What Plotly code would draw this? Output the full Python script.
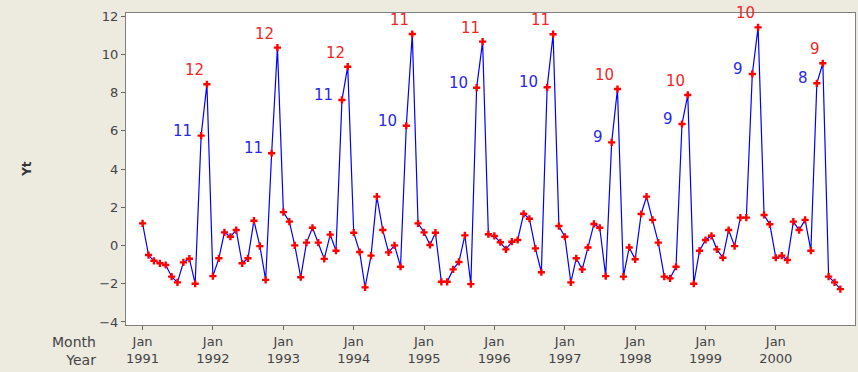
import pandas as pd
import plotly.graph_objects as go

# Monthly series Yt, Jan 1991 - Dec 2000
months = pd.date_range("1991-01-01", periods=120, freq="MS")
yt = [
    # 1991
    1.16, -0.50, -0.80, -0.93, -1.02, -1.63, -1.93, -0.88, -0.69, -2.00, 5.75, 8.44,
    # 1992
    -1.60, -0.67, 0.69, 0.46, 0.81, -0.93, -0.67, 1.30, -0.03, -1.80, 4.83, 10.36,
    # 1993
    1.75, 1.25, 0.01, -1.66, 0.15, 0.93, 0.15, -0.70, 0.57, -0.27, 7.62, 9.36,
    # 1994
    0.67, -0.34, -2.19, -0.53, 2.56, 0.81, -0.36, 0.01, -1.11, 6.27, 11.07, 1.16,
    # 1995
    0.69, 0.03, 0.67, -1.90, -1.90, -1.25, -0.86, 0.53, -2.02, 8.26, 10.67, 0.59,
    # 1996
    0.50, 0.17, -0.20, 0.20, 0.29, 1.66, 1.40, -0.15, -1.40, 8.28, 11.06, 1.02,
    # 1997
    0.46, -1.93, -0.67, -1.25, -0.10, 1.13, 0.93, -1.60, 5.40, 8.19, -1.63, -0.10,
    # 1998
    -0.72, 1.65, 2.56, 1.34, 0.15, -1.63, -1.72, -1.11, 6.36, 7.88, -2.00, -0.27,
    # 1999
    0.29, 0.51, -0.20, -0.64, 0.81, -0.03, 1.46, 1.46, 8.98, 11.42, 1.60, 1.11,
    # 2000
    -0.64, -0.53, -0.76, 1.25, 0.81, 1.34, -0.27, 8.49, 9.54, -1.63, -1.93, -2.28,
]

# Month-of-year labels for each yearly peak (index into the series)
peak_idx = [11, 23, 35, 46, 58, 70, 81, 93, 105, 116]
prepeak_idx = [10, 22, 34, 45, 57, 69, 80, 92, 104, 115]

year_ticks = pd.date_range("1991-01-01", periods=10, freq="YS")
tick_text = [f"Jan<br>{d.year}" for d in year_ticks]

y_ticks = list(range(-4, 13, 2))

BG = "#EDEAE0"
FONT = "DejaVu Sans"

fig = go.Figure()
fig.add_trace(go.Scatter(
    x=months, y=yt, mode="lines+markers",
    line=dict(color="#0000FF", width=1.2),
    marker=dict(symbol="cross", size=6, color="#FF0000", line=dict(width=0)),
    hoverinfo="x+y", showlegend=False,
))

annotations = []
for i in peak_idx:
    annotations.append(dict(
        x=months[i], y=yt[i], text=str(months[i].month), showarrow=False,
        xanchor="right", yanchor="bottom", xshift=-1, yshift=3,
        font=dict(family=FONT, size=15, color="#F02828"),
    ))
for i in prepeak_idx:
    annotations.append(dict(
        x=months[i], y=yt[i], text=str(months[i].month), showarrow=False,
        xanchor="right", yanchor="middle", xshift=-7, yshift=5,
        font=dict(family=FONT, size=15, color="#2828E8"),
    ))

# Axis side captions
annotations.append(dict(
    xref="paper", yref="paper", x=-0.039, y=-0.024,
    text="Month<br>Year", showarrow=False, xanchor="right", yanchor="top",
    align="right", font=dict(family=FONT, size=14, color="#444444"),
))
annotations.append(dict(
    xref="paper", yref="paper", x=-0.136, y=0.50,
    text="<b>Yt</b>", showarrow=False, textangle=-90,
    xanchor="center", yanchor="middle",
    font=dict(family=FONT, size=12, color="#333333"),
))

fig.update_layout(
    width=858, height=372,
    margin=dict(l=126, r=3, t=13, b=47),
    paper_bgcolor=BG, plot_bgcolor="white",
    font=dict(family=FONT, size=13, color="#444444"),
    annotations=annotations,
    xaxis=dict(
        type="date", range=["1990-10-07", "2001-02-15"],
        tickvals=year_ticks, ticktext=tick_text,
        ticks="outside", ticklen=4, tickcolor="#666666",
        showgrid=False, zeroline=False,
        showline=True, linecolor="#808080", linewidth=1, mirror=True,
        tickfont=dict(family=FONT, size=13, color="#444444"),
    ),
    yaxis=dict(
        range=[-4.16, 12.17], tickvals=y_ticks,
        ticks="outside", ticklen=4, tickcolor="#666666",
        showgrid=False, zeroline=False,
        showline=True, linecolor="#808080", linewidth=1, mirror=True,
        tickfont=dict(family=FONT, size=13, color="#444444"),
    ),
)

fig.write_html("out.html")
